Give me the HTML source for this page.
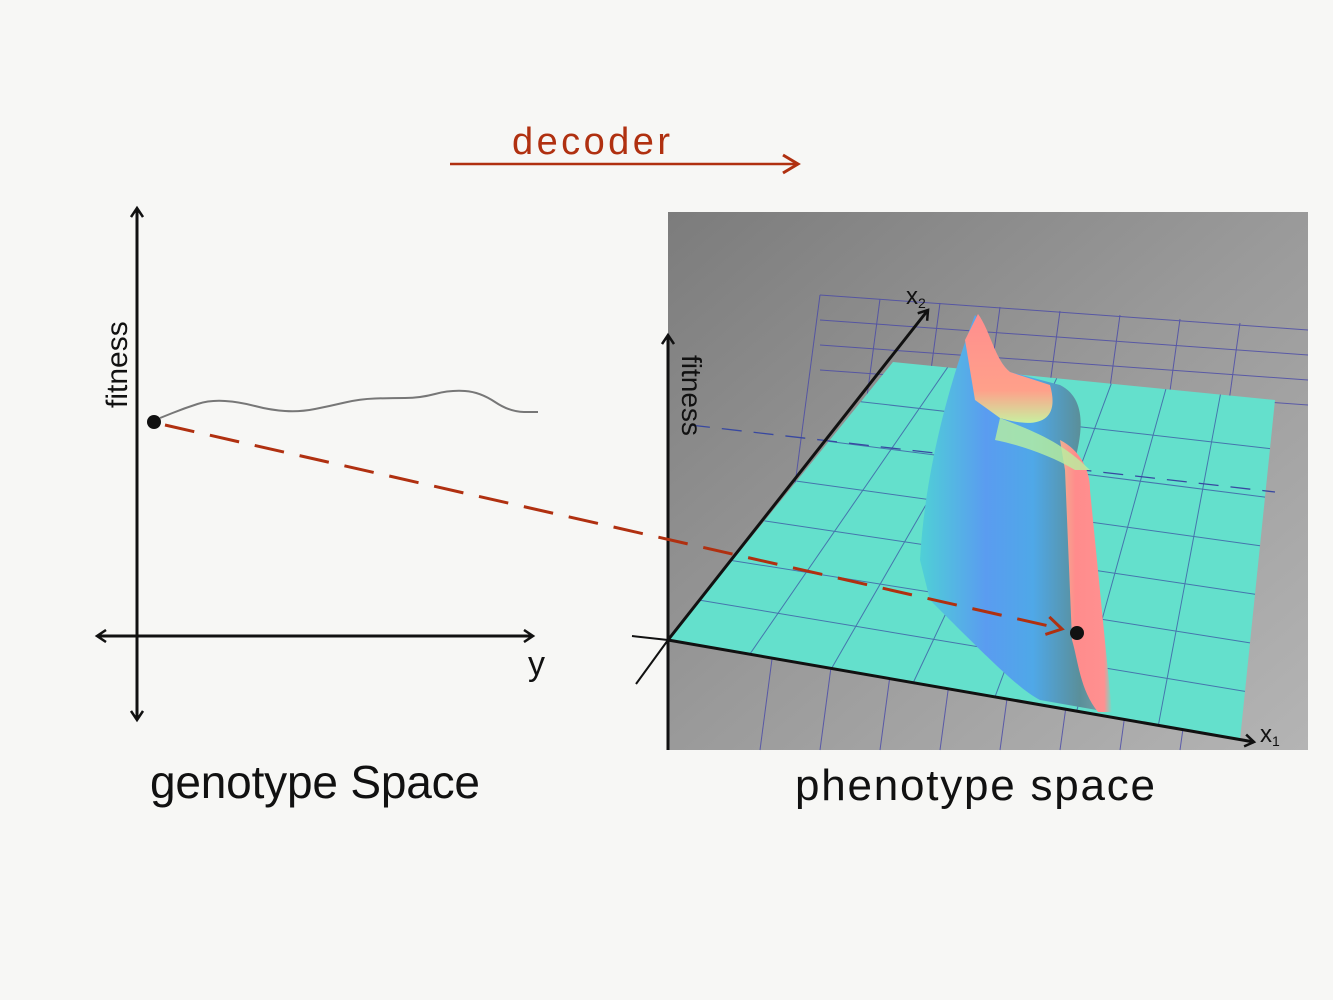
<!DOCTYPE html>
<html><head><meta charset="utf-8"><style>
body{margin:0;background:#f7f7f5}
svg{display:block}
text{font-family:"Liberation Sans",sans-serif}
</style></head><body>
<svg width="1333" height="1000" viewBox="0 0 1333 1000">
<defs>
<linearGradient id="bg" x1="0" y1="0" x2="1" y2="1"><stop offset="0" stop-color="#7c7c7c"/><stop offset="0.5" stop-color="#9a9a9a"/><stop offset="1" stop-color="#b4b4b4"/></linearGradient>
<linearGradient id="body" x1="0" y1="0" x2="1" y2="0"><stop offset="0" stop-color="#4fd0d6"/><stop offset="0.35" stop-color="#5a9cf0"/><stop offset="0.6" stop-color="#4fa8e8"/><stop offset="0.85" stop-color="#5a8f9a"/><stop offset="1" stop-color="#7aa0a8"/></linearGradient>
<linearGradient id="pinkv" x1="0" y1="0" x2="0" y2="1"><stop offset="0" stop-color="#ff8e8e"/><stop offset="0.7" stop-color="#ffa08a"/><stop offset="1" stop-color="#c8f0a0"/></linearGradient>
<linearGradient id="pinkh" x1="0" y1="0" x2="1" y2="0"><stop offset="0" stop-color="#f0b090"/><stop offset="0.3" stop-color="#ff8c8c"/><stop offset="0.85" stop-color="#ff9090"/><stop offset="1" stop-color="#66e0cc"/></linearGradient>
<marker id="ah" markerWidth="14" markerHeight="14" refX="11" refY="7" orient="auto-start-reverse" markerUnits="userSpaceOnUse"><path d="M2,1 L11,7 L2,13" fill="none" stroke="#111" stroke-width="2.5"/></marker>
<marker id="ahr" markerWidth="22" markerHeight="22" refX="18" refY="11" orient="auto" markerUnits="userSpaceOnUse"><path d="M3,2 L18,11 L3,20" fill="none" stroke="#b03010" stroke-width="3"/></marker>
</defs>

<text x="512" y="154" font-size="38" fill="#b03010" textLength="158">decoder</text>
<line x1="450" y1="164" x2="798" y2="164" stroke="#b03010" stroke-width="2.5" marker-end="url(#ahr)"/>

<g>
<line x1="137" y1="720" x2="137" y2="208" stroke="#111" stroke-width="3" marker-end="url(#ah)" marker-start="url(#ah)"/>
<line x1="97" y1="636" x2="533" y2="636" stroke="#111" stroke-width="3" marker-end="url(#ah)" marker-start="url(#ah)"/>
</g>
<text transform="translate(127,408) rotate(-90)" font-size="30" fill="#111">fitness</text>
<text x="528" y="675" font-size="34" fill="#111">y</text>
<path id="wave" fill="none" stroke="#777" stroke-width="2"/>
<circle cx="154" cy="422" r="7" fill="#111"/>
<text x="150" y="798" font-size="46" fill="#111" textLength="330">genotype Space</text>

<g>
<rect x="668" y="212" width="640" height="538" fill="url(#bg)"/>
<g stroke="#4848a8" stroke-width="1" fill="none" opacity="0.8" id="bggrid"></g>
<polygon points="668,640 893,362 1275,400 1240,740" fill="#64e0cc"/>
<g stroke="#3848a0" stroke-width="1" fill="none" opacity="0.7" id="planegrid"></g>
<line x1="690" y1="425" x2="1275" y2="492" stroke="#3848a0" stroke-dasharray="20,12" stroke-width="1.3"/>
<path d="M920,560 C925,470 950,380 975,315 C990,330 995,360 1010,372 L1060,385 C1090,400 1080,440 1075,460 L1108,712 L1040,700 C1020,690 990,660 930,600 Z" fill="url(#body)"/>
<path d="M965,340 L978,314 C990,330 995,360 1010,372 L1050,385 C1060,420 1040,430 1000,418 L975,400 Z" fill="url(#pinkv)"/>
<path d="M1060,440 C1080,450 1090,470 1090,490 L1112,712 L1098,712 C1080,690 1078,660 1072,640 L1065,470 Z" fill="url(#pinkh)"/>
<path d="M1000,418 C1030,430 1060,440 1090,470 L1075,470 C1050,455 1020,445 995,440 Z" fill="#b8f0a0" opacity="0.8"/>
<line x1="668" y1="750" x2="668" y2="335" stroke="#111" stroke-width="3" marker-end="url(#ah)"/>
<line x1="668" y1="640" x2="928" y2="310" stroke="#111" stroke-width="3" marker-end="url(#ah)"/>
<line x1="668" y1="640" x2="1254" y2="742" stroke="#111" stroke-width="3" marker-end="url(#ah)"/>
<line x1="668" y1="640" x2="636" y2="684" stroke="#111" stroke-width="2"/>
<line x1="668" y1="640" x2="632" y2="636" stroke="#111" stroke-width="2"/>
<text transform="translate(682,355) rotate(90)" font-size="28" fill="#111">fitness</text>
<text x="906" y="304" font-size="24" fill="#111">x<tspan font-size="14" dy="4">2</tspan></text>
<text x="1260" y="742" font-size="24" fill="#111">x<tspan font-size="14" dy="4">1</tspan></text>
</g>

<line x1="165" y1="425" x2="1062" y2="629" stroke="#b03010" stroke-width="3" stroke-dasharray="30,16" marker-end="url(#ahr)"/>
<circle cx="1077" cy="633" r="7" fill="#111"/>
<text x="795" y="800" font-size="44" fill="#111" textLength="360">phenotype  space</text>
</svg>
<script>
const waveX=[160,185,210,240,270,300,330,360,390,420,450,480,510,538];
const waveY=[418,408,400,402,410,412,406,399,398,398,390,392,412,412];
let d='M'+waveX[0]+','+waveY[0];
for(let i=1;i<waveX.length;i++){const mx=(waveX[i-1]+waveX[i])/2;d+=' Q'+waveX[i-1]+','+waveY[i-1]+' '+mx+','+((waveY[i-1]+waveY[i])/2);}
d+=' L'+waveX[waveX.length-1]+','+waveY[waveY.length-1];
document.getElementById('wave').setAttribute('d',d);
const g=document.getElementById('planegrid');
function L(p,x1,y1,x2,y2){const l=document.createElementNS('http://www.w3.org/2000/svg','line');l.setAttribute('x1',x1);l.setAttribute('y1',y1);l.setAttribute('x2',x2);l.setAttribute('y2',y2);p.appendChild(l);}
const A=[668,640],B=[893,362],C=[1275,400],D=[1240,740];
const n=7;
for(let i=1;i<n;i++){const t=i/n;
 L(g,A[0]+(D[0]-A[0])*t,A[1]+(D[1]-A[1])*t,B[0]+(C[0]-B[0])*t,B[1]+(C[1]-B[1])*t);
 L(g,A[0]+(B[0]-A[0])*t,A[1]+(B[1]-A[1])*t,D[0]+(C[0]-D[0])*t,D[1]+(C[1]-D[1])*t);}
const bg=document.getElementById('bggrid');
for(let i=0;i<8;i++){L(bg,820+i*60,295+i*4,820+i*60-60,750);}
for(let i=0;i<4;i++){L(bg,820,295+i*25,1308,330+i*25);}
</script>
</body></html>
